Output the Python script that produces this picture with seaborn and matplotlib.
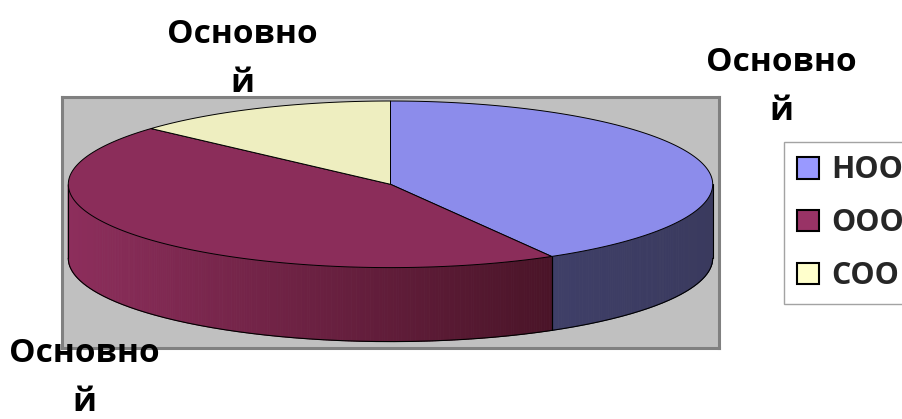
import numpy as np
import pandas as pd
import matplotlib
matplotlib.use("Agg")
import matplotlib.pyplot as plt
import matplotlib.colors as mcolors
from matplotlib.patches import Polygon, Patch
import seaborn as sns

# ---- data ----
categories = ["НОО", "ООО", "СОО"]
values = [25, 27, 8]
data_labels = ["Основно\nй", "Основно\nй", "Основно\nй"]

df = pd.DataFrame({"category": categories, "value": values})

# ---- style ----
sns.set_theme(style="white")
plt.rcParams["font.family"] = ["Open Sans", "DejaVu Sans"]
plt.rcParams["font.weight"] = "bold"

legend_colors = sns.color_palette(["#9999FF", "#993366", "#FFFFCC"])
top_colors = ["#8C8CEB", "#8B2D5A", "#EEEEC0"]
side_left = ["#3F3F68", "#8D2E5C", "#D8D8A8"]
side_right = ["#3A3A5E", "#4A1428", "#B0B080"]

W, H = 902, 419
fig = plt.figure(figsize=(W / 100, H / 100), dpi=100)
fig.patch.set_facecolor("white")

# plot area (pixel-like data coords, y downwards)
x0, x1, y0, y1 = 62, 719, 97, 348
ax = fig.add_axes([x0 / W, 1 - y1 / H, (x1 - x0) / W, (y1 - y0) / H])
ax.set_xlim(x0, x1)
ax.set_ylim(y1, y0)
ax.set_facecolor("#C0C0C0")
for s in ax.spines.values():
    s.set_color("#808080")
    s.set_linewidth(2.2)
ax.set_xticks([])
ax.set_yticks([])

# ellipse geometry
cx, cy, rx, ry, depth = 390.5, 184.3, 322.2, 83.3, 74.0


def pt(t_deg, dz=0.0):
    t = np.radians(t_deg)
    return cx + rx * np.cos(t), cy - ry * np.sin(t) + dz


vals = df["value"].to_numpy(dtype=float)
fr = vals / vals.sum()
starts = 90 - 360 * np.concatenate([[0], np.cumsum(fr)[:-1]])
ends = starts - 360 * fr

# side walls (visible front: t in [-180, 0])
for i in range(len(vals)):
    a = min(starts[i], 0.0)
    b = max(ends[i], -180.0)
    if a <= b:
        continue
    n = max(int((a - b) * 2), 4)
    ts = np.linspace(a, b, n + 1)
    xs_all = [pt(t)[0] for t in ts]
    xmin, xmax = min(xs_all), max(xs_all)
    cl = np.array(mcolors.to_rgb(side_left[i]))
    cr = np.array(mcolors.to_rgb(side_right[i]))
    for k in range(n):
        ta, tb = ts[k], ts[k + 1]
        xa, ya = pt(ta)
        xb, yb = pt(tb)
        xm = 0.5 * (xa + xb)
        f = 0 if xmax == xmin else (xm - xmin) / (xmax - xmin)
        col = cl * (1 - f) + cr * f
        poly = Polygon([(xa, ya), (xb, yb), (xb, yb + depth), (xa, ya + depth)],
                       closed=True, facecolor=col, edgecolor=col, lw=0.6, zorder=2)
        ax.add_patch(poly)

# side outlines
tb_arc = np.linspace(-180, 0, 400)
bx = [pt(t, depth)[0] for t in tb_arc]
by = [pt(t, depth)[1] for t in tb_arc]
ax.plot(bx, by, color="black", lw=0.8, zorder=3)
edges = [-180.0, 0.0] + [e for e in list(starts) + list(ends) if -180 < e < 0]
for e in edges:
    xe, ye = pt(e)
    ax.plot([xe, xe], [ye, ye + depth], color="black", lw=0.8, zorder=3)

# top faces
for i in range(len(vals)):
    n = max(int((starts[i] - ends[i]) * 2), 8)
    ts = np.linspace(starts[i], ends[i], n)
    pts = [(cx, cy)] + [pt(t) for t in ts]
    ax.add_patch(Polygon(pts, closed=True, facecolor=top_colors[i],
                         edgecolor="black", lw=0.7, zorder=4))

# data labels
label_pos = [(781, 120), (242, 92), (84, 411)]  # (x, last-line baseline) in px
for lab, (lx, ly) in zip(data_labels, label_pos):
    fig.text(lx / W, 1 - ly / H, lab, ha="center", va="baseline",
             fontsize=24, fontweight="bold", linespacing=1.65,
             multialignment="center", color="black")

# legend
handles = [Patch(facecolor=c, edgecolor="black", lw=1.5, label=cat)
           for c, cat in zip(legend_colors, categories)]
leg = fig.legend(handles=handles, loc="upper left",
                 bbox_to_anchor=(784 / W, 1 - 142.5 / H),
                 frameon=True, fancybox=False, edgecolor="#8C8C8C",
                 prop={"weight": "bold", "size": 22},
                 handlelength=0.72, handleheight=0.72, labelspacing=0.75,
                 borderpad=0.42, handletextpad=0.4, borderaxespad=0)
leg.get_frame().set_linewidth(1.0)

fig.savefig("out.png", dpi=100)
